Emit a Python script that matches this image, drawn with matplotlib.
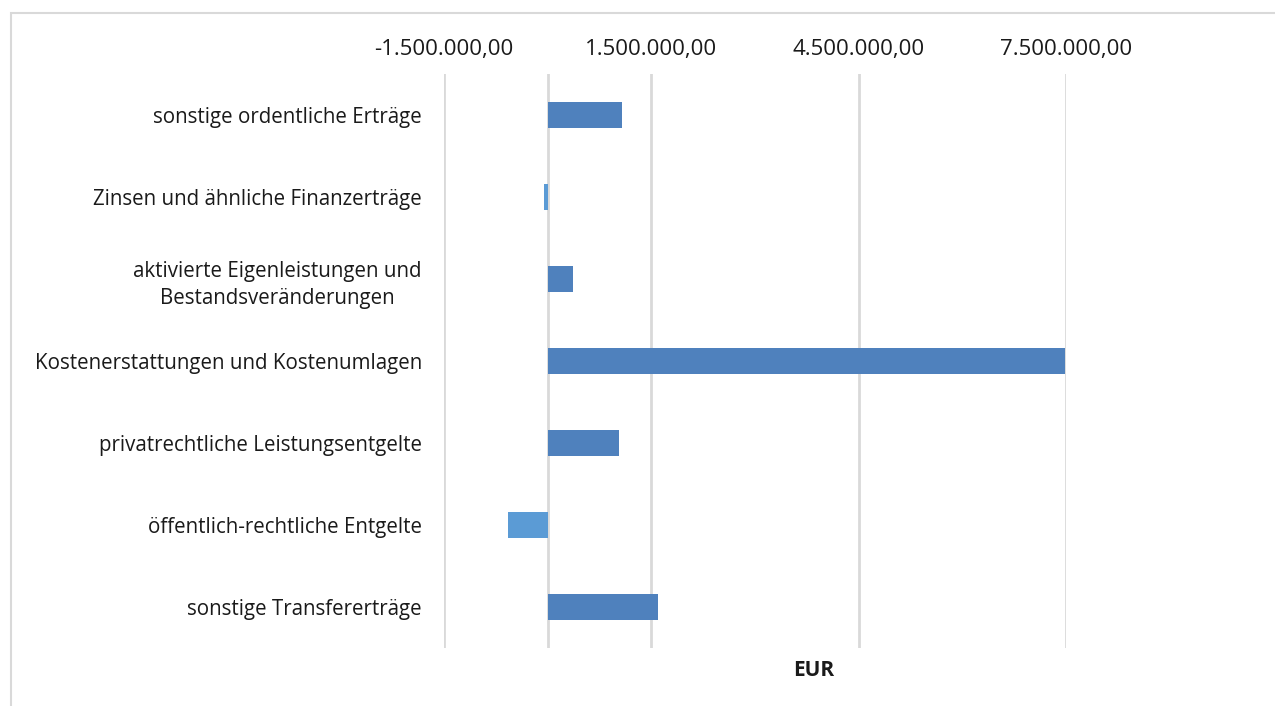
import matplotlib
matplotlib.use("Agg")
import matplotlib.pyplot as plt
from matplotlib.patches import Rectangle
from matplotlib.ticker import FixedLocator, FuncFormatter

categories = [
    "sonstige ordentliche Erträge",
    "Zinsen und ähnliche Finanzerträge",
    "aktivierte Eigenleistungen und\nBestandsveränderungen",
    "Kostenerstattungen und Kostenumlagen",
    "privatrechtliche Leistungsentgelte",
    "öffentlich-rechtliche Entgelte",
    "sonstige Transfererträge",
]
values = [1080000, -60000, 360000, 7480000, 1030000, -570000, 1590000]
tick_values = [-1500000, 1500000, 4500000, 7500000]
axis_label = "EUR"

pos_color = "#4F81BD"
neg_color = "#5B9BD5"

plt.rcParams['font.family'] = ['Open Sans', 'DejaVu Sans']

fig = plt.figure(figsize=(12.75, 7.06), dpi=100)
ax = fig.add_axes([444/1275, 1-648/706, (1066-444)/1275, (648-74)/706])

n = len(categories)
ypos = list(range(n))
colors = [pos_color if v >= 0 else neg_color for v in values]
ax.barh(ypos, values, height=0.32, color=colors, zorder=3)
ax.set_ylim(n - 0.5, -0.5)
ax.set_xlim(-1500000, 7500000)

ax.xaxis.set_major_locator(FixedLocator(tick_values))
def fmt(v, p):
    s = f"{abs(v):,.2f}".replace(",", "X").replace(".", ",").replace("X", ".")
    return ("-" if v < 0 else "") + s
ax.xaxis.set_major_formatter(FuncFormatter(fmt))
ax.xaxis.tick_top()
ax.tick_params(axis='x', length=0, pad=10, labelsize=16, labelcolor='#1a1a1a')
ax.grid(axis='x', color='#D9D9D9', linewidth=2, zorder=0)
ax.axvline(0, color='#D9D9D9', linewidth=2, zorder=1)

ax.set_yticks(ypos)
ax.set_yticklabels(categories, fontsize=14.8, color='#1a1a1a')
for lbl in ax.get_yticklabels():
    lbl.set_multialignment('center')
    lbl.set_linespacing(1.4)
ax.tick_params(axis='y', length=0, pad=16)

for s in ax.spines.values():
    s.set_visible(False)

fig.text(814/1275, 1-670/706, axis_label, ha='center', va='center',
         fontsize=15, fontweight='bold', color='#1a1a1a')

# chart border
fig.patches.append(Rectangle((10.5/1275, -0.01), 1.2, 1-12.5/706+0.01,
                             transform=fig.transFigure, fill=False,
                             edgecolor='#D9D9D9', linewidth=1.5))

fig.savefig("out.png", dpi=100)
